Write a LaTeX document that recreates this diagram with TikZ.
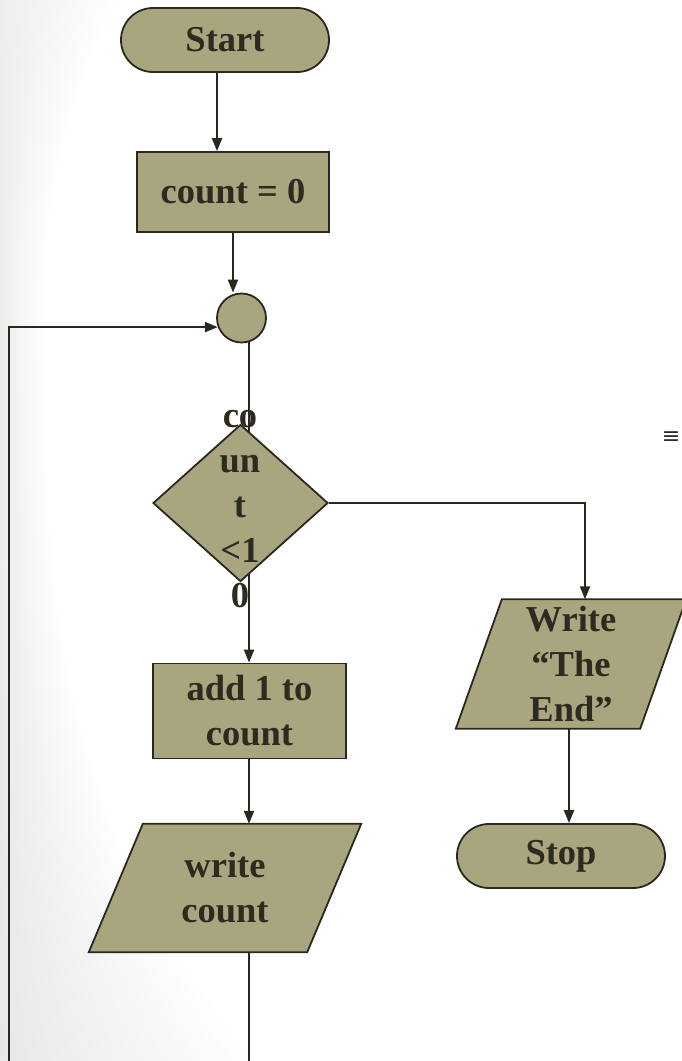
\documentclass[tikz,border=0pt]{standalone}
\usepackage{fontspec}
\setmainfont{Liberation Serif}
\newfontfamily\symfont{DejaVu Sans}
\usetikzlibrary{arrows.meta,shapes.geometric,calc}
\definecolor{boxfill}{HTML}{A9A67F}
\definecolor{ink}{HTML}{2D2A20}
\definecolor{linec}{HTML}{2A281E}
\pgfdeclarelayer{paper}
\pgfdeclarelayer{background}
\pgfdeclarelayer{shapes}
\pgfsetlayers{paper,background,shapes,main}
\begin{document}
\begin{tikzpicture}[x=1pt,y=-1pt,
  every node/.style={font=\fontsize{36.5}{45}\selectfont\bfseries, text=ink, align=center, inner sep=0pt},
  blk/.style={draw=linec, fill=boxfill, line width=1.8pt},
  term/.style={blk, rectangle, rounded corners=32pt, minimum width=208pt, minimum height=64pt},
  proc/.style={blk, rectangle},
  conn/.style={draw=linec, line width=2.2pt},
  arr/.style={conn, -{Triangle[length=13pt,width=10pt]}},
]
\useasboundingbox (0,0) rectangle (681,1061);
\begin{pgfonlayer}{paper}
\fill[white] (0,0) rectangle (681,1061);
% soft grey background on the left
\foreach \i in {0,...,106}{
  \pgfmathsetmacro\ya{\i*10}
  \pgfmathsetmacro\yc{\ya+5}
  \pgfmathsetmacro\s{max(0,(300-\yc)/300)}
  \pgfmathsetmacro\t{max(0,(\yc-300)/761)}
  \pgfmathsetmacro\w{45+75*\s*\s+215*\t*\t*\t}
  \pgfmathsetmacro\g{7+2*\t}
  \shade[left color=black!\g, right color=white] (0,\ya) rectangle (\w,\ya+10.5);
}
\end{pgfonlayer}

% nodes
\node[term] (start) at (225,40) {Start};
\node[proc, minimum width=192pt, minimum height=80pt] (init) at (233,192) {count = 0};
\node[blk, circle, minimum size=49pt] (join) at (241.5,318) {};
\node[blk, diamond, minimum width=175pt, minimum height=157pt] (test) at (240.5,503) {};
\node (testtxt) at (240,509) {co\\un\\t\\<1\\0};
\node[proc, minimum width=193pt, minimum height=95pt] (inc) at (249.5,711) {add 1 to\\count};
\node[minimum width=218pt, minimum height=128pt] (wc) at (225,888) {write\\count};
\node[minimum width=184pt, minimum height=129pt] (wte) at (571,664) {Write\\“The\\End”};
\node[term] (stop) at (561,856) {Stop};
\node[font=\symfont\fontsize{22}{22}\selectfont] (menu) at (671,438) {≡};

% parallelogram outlines
\begin{pgfonlayer}{shapes}
\draw[blk] ([xshift=27pt]wc.north west) -- ([xshift=27pt]wc.north east) -- ([xshift=-27pt]wc.south east) -- ([xshift=-27pt]wc.south west) -- cycle;
\draw[blk] ([xshift=23pt]wte.north west) -- ([xshift=23pt]wte.north east) -- ([xshift=-23pt]wte.south east) -- ([xshift=-23pt]wte.south west) -- cycle;
\end{pgfonlayer}

% connectors
\coordinate (lane) at (249,0);
\coordinate (rlane) at (585,0);
\coordinate (slane) at (569,0);
\coordinate (bottomA) at (249,1070);
\coordinate (bottomB) at (9,1070);
\begin{pgfonlayer}{background}
\draw[arr] ([xshift=-8pt]start.south) -- ([xshift=-8pt]start.south |- init.north);
\draw[arr] (init.south) -- (init.south |- join.north);
\draw[conn] (join.center -| lane) -- (test.center -| lane);
\draw[arr] (test.center -| lane) -- (lane |- inc.north);
\draw[arr] (lane |- inc.south) -- (lane |- wc.north);
\draw[conn] (lane |- wc.center) -- (bottomA);
\draw[arr] (bottomB) |- (join.201.6);
\draw[arr] (test.east) -| (rlane |- wte.north);
\draw[arr] (slane |- wte.center) -- (slane |- stop.north);
\end{pgfonlayer}
\end{tikzpicture}
\end{document}
